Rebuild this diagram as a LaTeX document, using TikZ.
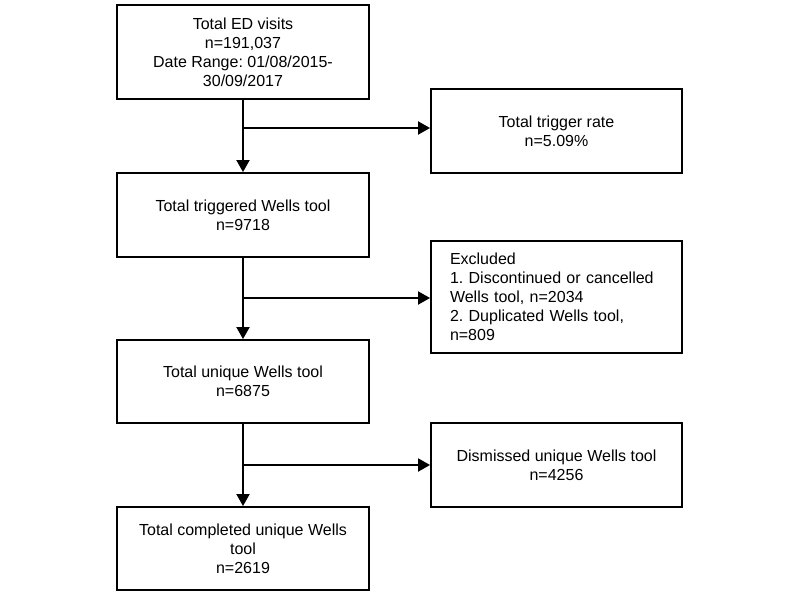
\documentclass[tikz,border=0pt]{standalone}
\usepackage{fontspec}
\setmainfont{Liberation Sans}
\usetikzlibrary{arrows.meta}
\begin{document}
\frenchspacing
\begin{tikzpicture}[x=1pt,y=-1pt,
  box/.style={draw=black, line width=1.9pt, inner sep=0pt, align=center,
    font=\fontsize{16}{19}\selectfont},
  arr/.style={line width=1.9pt, -{Triangle[length=12pt,width=13pt]}}]
\useasboundingbox (0,0) rectangle (800,600);
\node[box, minimum width=252pt, minimum height=94pt] (b1) at (243,52)
  {Total ED visits\\n=191,037\\Date Range: 01/08/2015-\\30/09/2017};
\node[box, minimum width=251pt, minimum height=84pt] (b2) at (556.5,131)
  {Total trigger rate\\n=5.09\%};
\node[box, minimum width=252pt, minimum height=84pt] (b3) at (243,215)
  {Total triggered Wells tool\\n=9718};
\node[box, minimum width=251pt, minimum height=112pt, text width=213pt, align=left] (b4) at (556.5,297)
  {Excluded\\1. Discontinued or cancelled\\Wells tool, n=2034\\2. Duplicated Wells tool,\\n=809};
\node[box, minimum width=252pt, minimum height=83pt] (b5) at (243,381.5)
  {Total unique Wells tool\\n=6875};
\node[box, minimum width=251pt, minimum height=84pt] (b6) at (556.5,465)
  {Dismissed unique Wells tool\\n=4256};
\node[box, minimum width=252pt, minimum height=83pt] (b7) at (243,548.5)
  {Total completed unique Wells\\tool\\n=2619};
\coordinate (j1) at (243,128);
\coordinate (j2) at (243,298);
\coordinate (j3) at (243,465);
\draw[arr] (b1) -- (b3);
\draw[arr] (b3) -- (b5);
\draw[arr] (b5) -- (b7);
\draw[arr] (j1) -- (j1 -| b2.west);
\draw[arr] (j2) -- (j2 -| b4.west);
\draw[arr] (j3) -- (j3 -| b6.west);
\end{tikzpicture}
\end{document}
